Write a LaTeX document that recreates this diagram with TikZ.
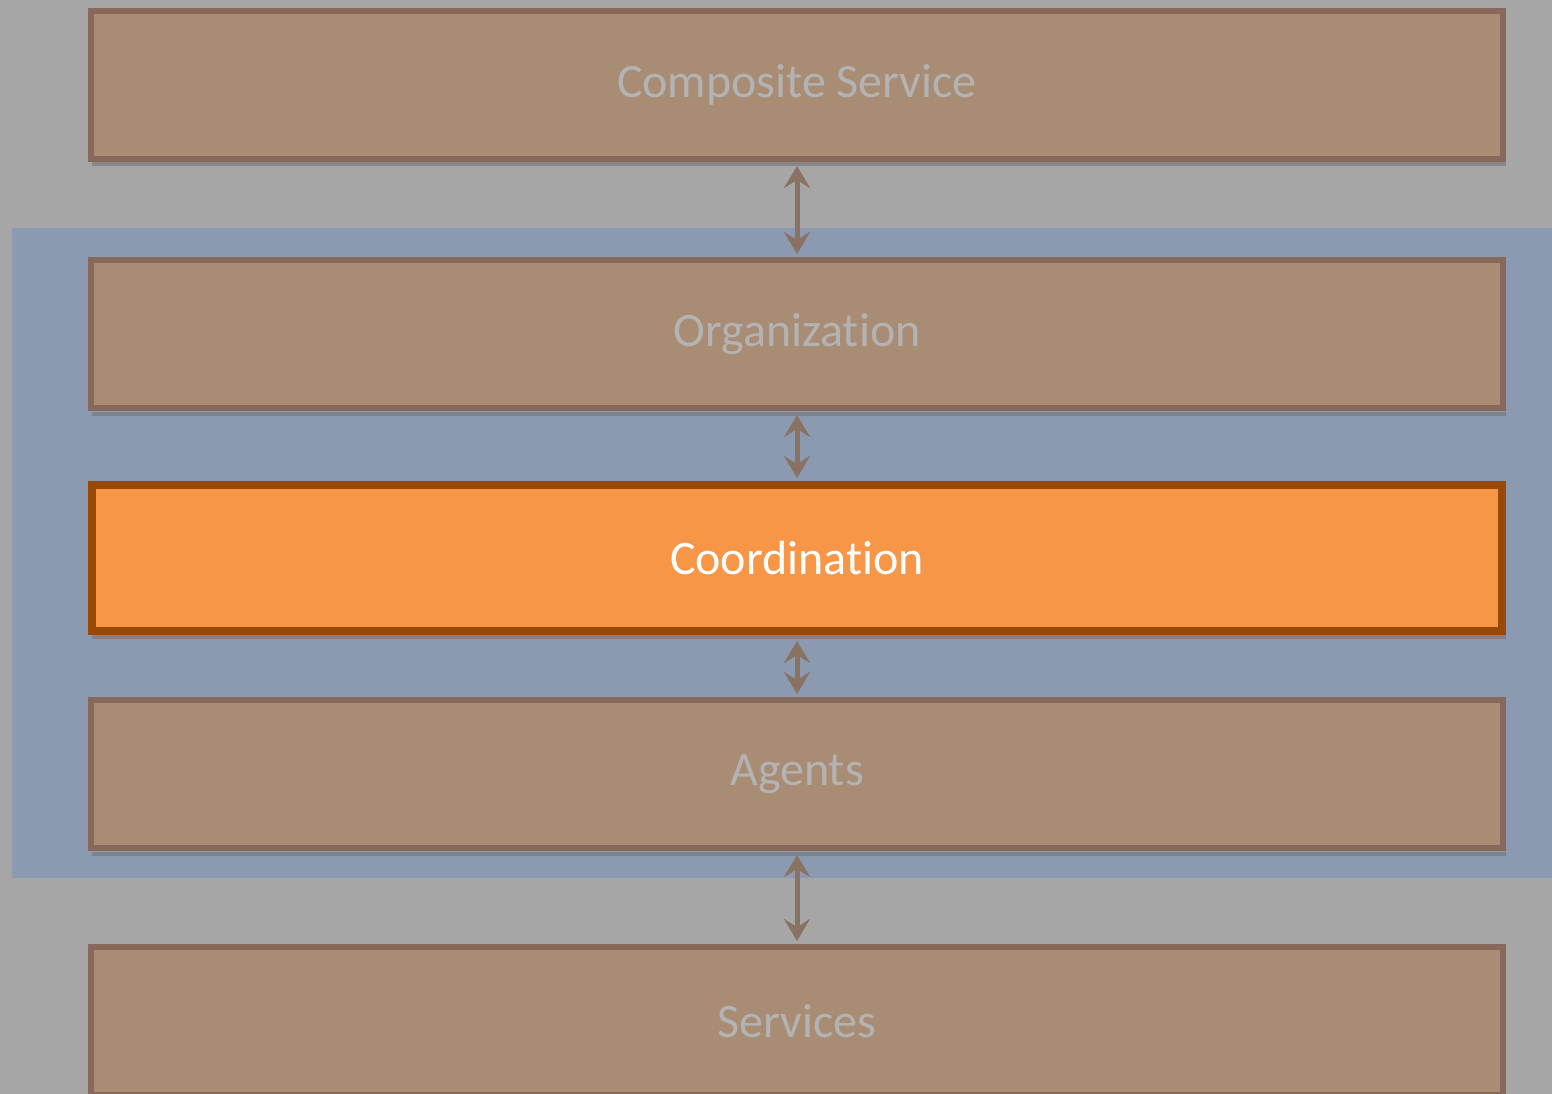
\documentclass[tikz,border=0pt]{standalone}
\usepackage{fontspec}
\setmainfont{Carlito}[Ligatures=NoCommon]
\usetikzlibrary{arrows.meta}
\definecolor{bggray}{HTML}{A6A6A6}
\definecolor{fadefill}{HTML}{A98C74}
\definecolor{fadeline}{HTML}{86695A}
\definecolor{fadetext}{HTML}{B3B3B3}
\definecolor{bluereg}{HTML}{8C9AB1}
\definecolor{coordfill}{HTML}{F79646}
\definecolor{coordline}{HTML}{984807}
\definecolor{arrowcol}{HTML}{8A7262}
\newcommand{\lowtext}[1]{\raisebox{-4pt}{#1}}
\tikzset{
  fadebox/.style={draw=fadeline, fill=fadefill, line width=6pt, minimum width=1412pt, minimum height=148pt, inner sep=0pt, text=fadetext, font=\fontsize{48}{56}\selectfont},
  coordbox/.style={draw=coordline, fill=coordfill, line width=8pt, minimum width=1410pt, minimum height=146pt, inner sep=0pt, text=white, font=\fontsize{48}{56}\selectfont},
  biarrow/.style={draw=arrowcol, line width=5pt, {Stealth[length=22pt,width=26pt,inset=8pt]}-{Stealth[length=22pt,width=26pt,inset=8pt]}},
  shadowline/.style={draw=black!55, line width=4pt, opacity=0.6}
}
\begin{document}
\begin{tikzpicture}[x=1pt,y=-1pt]
\useasboundingbox (0,0) rectangle (1552,1094);
\clip (0,0) rectangle (1552,1094);
\fill[bggray] (0,0) rectangle (1552,1094);
\fill[bluereg] (12,228) rectangle (1560,878);
% shadows
\draw[shadowline] (92,164) -- (1506,164);
\draw[shadowline] (92,414) -- (1506,414);
\draw[shadowline] (92,637) -- (1506,637);
\draw[shadowline] (92,854) -- (1506,854);
\node[fadebox] (comp) at (797,85) {\lowtext{Composite Service}};
\node[fadebox] (org) at (797,334) {\lowtext{Organization}};
\node[coordbox] (coord) at (797,558) {Coordination};
\node[fadebox] (agents) at (797,774) {\lowtext{Agents}};
\node[fadebox] (serv) at (797,1021) {Services};
\draw[biarrow] ([yshift=-4pt]comp.south) -- ([yshift=3pt]org.north);
\draw[biarrow] ([yshift=-4pt]org.south) -- ([yshift=3pt]coord.north);
\draw[biarrow] ([yshift=-6pt]coord.south) -- ([yshift=3pt]agents.north);
\draw[biarrow] ([yshift=-4pt]agents.south) -- ([yshift=3pt]serv.north);
\end{tikzpicture}
\end{document}
